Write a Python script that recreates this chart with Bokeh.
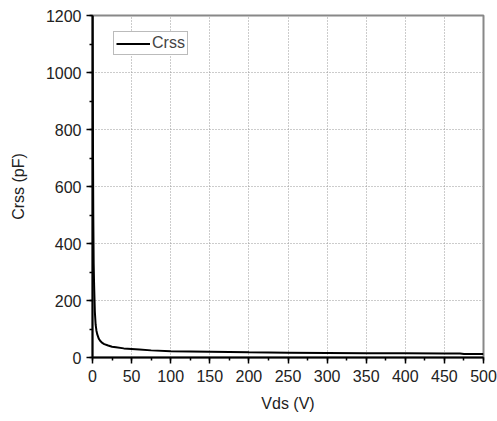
from bokeh.plotting import figure
from bokeh.models import Range1d, SingleIntervalTicker, Legend, LegendItem
from bokeh.embed import file_html
from bokeh.resources import INLINE

vds = [0, 0.3, 0.6, 1, 1.5, 2, 3, 4, 5, 6, 8, 10, 12, 15, 20, 25, 30, 40, 50, 60,
       75, 100, 125, 150, 200, 250, 300, 350, 400, 450, 470, 475, 500]
crss = [1200, 1000, 750, 500, 330, 260, 160, 115, 95, 82, 66, 58, 52, 47, 42, 38, 36,
        32, 30, 28, 25, 22, 21, 20, 18, 17, 16, 15, 14.5, 14, 14, 12, 12]

x_ticks_step = 50
y_ticks_step = 200
x_label = "Vds (V)"
y_label = "Crss (pF)"
series_name = "Crss"

FONT = "Liberation Sans"

p = figure(width=497, height=421, output_backend="svg", toolbar_location=None,
           x_range=Range1d(0, 500), y_range=Range1d(0, 1200),
           min_border_left=92, min_border_right=14, min_border_top=15, min_border_bottom=64)
p.background_fill_color = "white"
p.border_fill_color = "white"
p.outline_line_color = "#888888"
p.outline_line_width = 2

r = p.line(vds, crss, line_color="black", line_width=2)

for ax, step in ((p.xaxis[0], x_ticks_step), (p.yaxis[0], y_ticks_step)):
    ax.ticker = SingleIntervalTicker(interval=step, num_minor_ticks=2)
    ax.axis_line_color = "black"
    ax.axis_line_width = 2
    ax.major_tick_line_color = "black"
    ax.major_tick_line_width = 1.5
    ax.minor_tick_line_color = "black"
    ax.minor_tick_line_width = 1.5
    ax.major_tick_out = 6
    ax.major_tick_in = 0
    ax.minor_tick_out = 3
    ax.minor_tick_in = 0
    ax.major_label_text_font = FONT
    ax.major_label_text_font_size = "16px"
    ax.major_label_text_color = "#222222"
    ax.axis_label_text_font = FONT
    ax.axis_label_text_font_size = "16px"
    ax.axis_label_text_font_style = "normal"
    ax.axis_label_text_color = "#222222"

p.xaxis.axis_label = x_label
p.yaxis.axis_label = y_label
p.xaxis.major_label_standoff = 6
p.yaxis.major_label_standoff = 5
p.xaxis.axis_label_standoff = 10
p.yaxis.axis_label_standoff = 16

for g in (p.xgrid[0], p.ygrid[0]):
    g.grid_line_color = "#999999"
    g.grid_line_dash = "1 2"
    g.grid_line_width = 1

legend = Legend(items=[LegendItem(label=series_name, renderers=[r])],
                location=(21, 302), orientation="vertical")
legend.border_line_color = "#777777"
legend.border_line_width = 1.5
legend.background_fill_alpha = 1
legend.padding = 2
legend.margin = 0
legend.spacing = 0
legend.glyph_width = 34
legend.glyph_height = 15
legend.label_standoff = 2
legend.label_text_font = FONT
legend.label_text_font_size = "16px"
legend.label_height = 15
p.add_layout(legend, "center")

open("out.html", "w").write(file_html(p, INLINE))
